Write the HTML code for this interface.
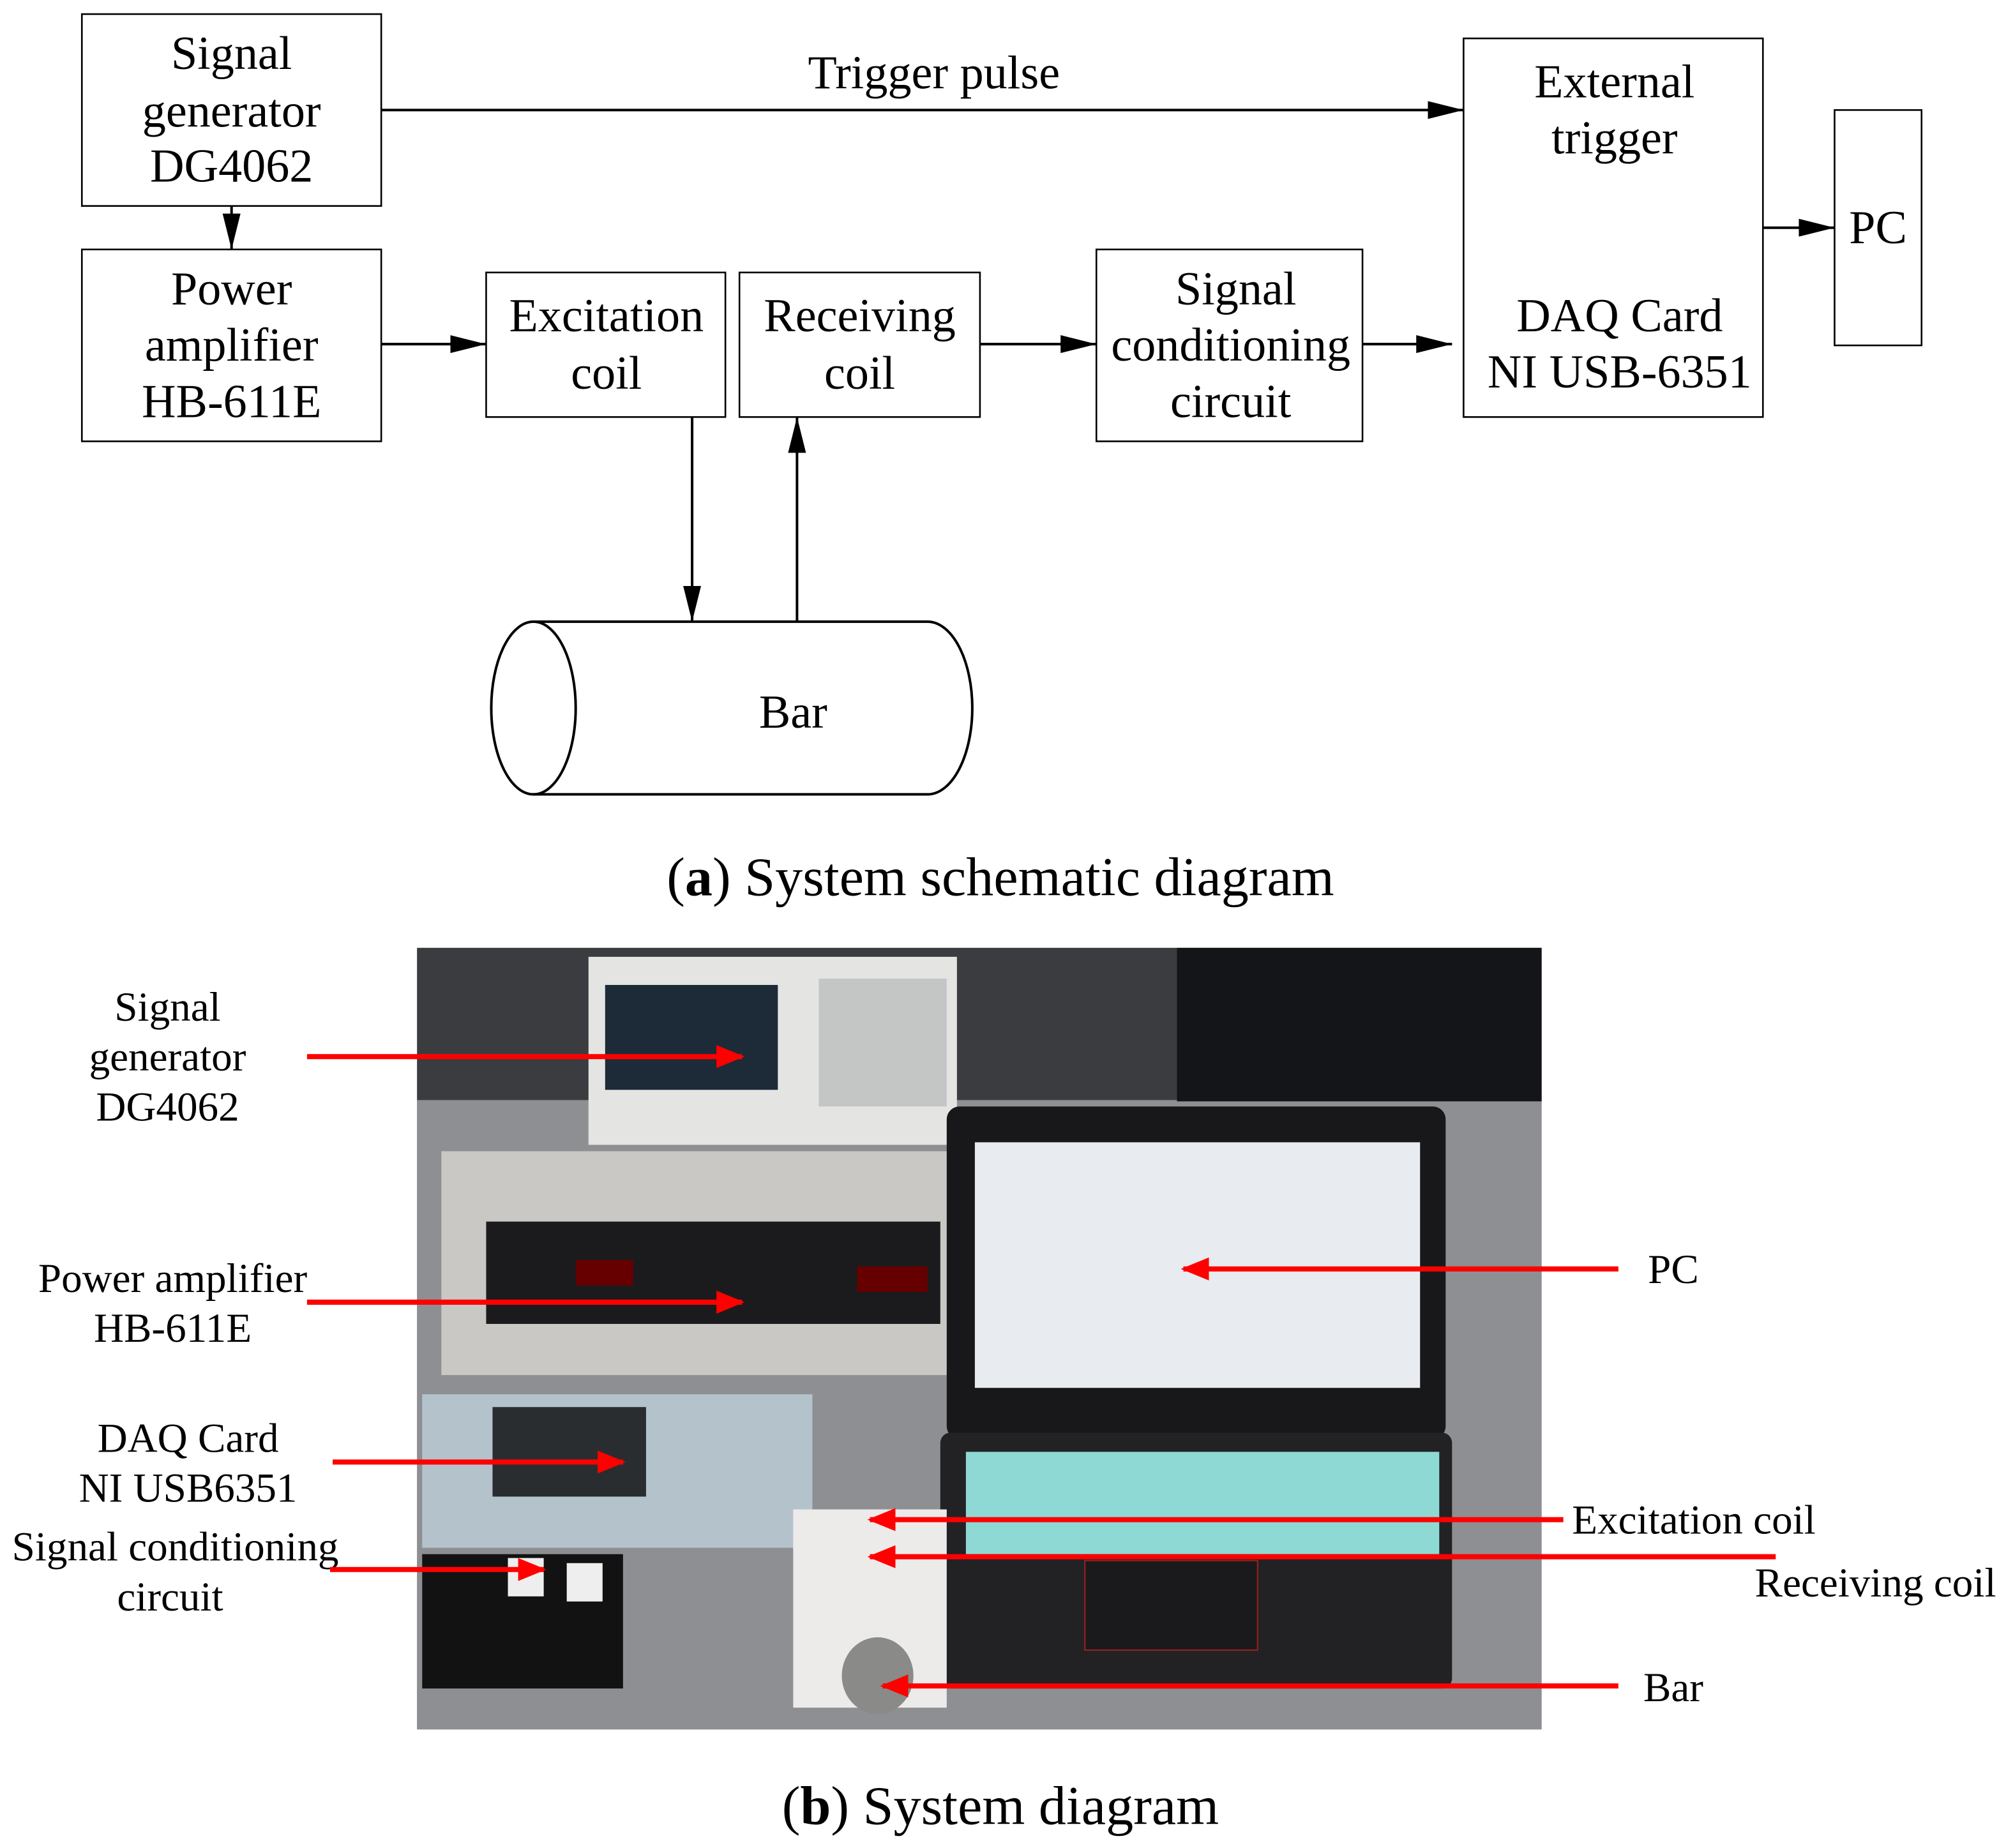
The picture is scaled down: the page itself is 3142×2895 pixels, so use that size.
<!DOCTYPE html>
<html><head><meta charset="utf-8"><style>html,body{margin:0;padding:0;background:#fff}svg{display:block}</style></head>
<body>
<svg width="3142" height="2895" viewBox="0 0 1568 1444.7" xmlns="http://www.w3.org/2000/svg" font-family="Liberation Serif, serif">
<defs>
<marker id="ab" markerWidth="28" markerHeight="14" refX="28" refY="7" orient="auto" markerUnits="userSpaceOnUse"><path d="M0,0 L28,7 L0,14 z" fill="#000"/></marker>
<marker id="r" markerWidth="22" markerHeight="18" refX="20" refY="9" orient="auto" markerUnits="userSpaceOnUse"><path d="M0,0 L22,9 L0,18 z" fill="#f00"/></marker>
</defs>
<g fill="#fff" stroke="#000" stroke-width="1.3">
<rect x="64" y="11" width="234" height="150"/>
<rect x="64" y="195" width="234" height="150"/>
<rect x="380" y="213" width="187" height="113"/>
<rect x="578" y="213" width="188" height="113"/>
<rect x="857" y="195" width="208" height="150"/>
<rect x="1144" y="30" width="234" height="296"/>
<rect x="1434" y="86" width="68" height="184"/>
</g>
<g stroke="#000" stroke-width="2" fill="none" marker-end="url(#ab)">
<line x1="298" y1="86" x2="1144" y2="86"/>
<line x1="181" y1="161" x2="181" y2="195"/>
<line x1="298" y1="269" x2="380" y2="269"/>
<line x1="766" y1="269" x2="857" y2="269"/>
<line x1="1065" y1="269" x2="1135" y2="269"/>
<line x1="1378" y1="178" x2="1434" y2="178"/>
<line x1="541" y1="326" x2="541" y2="486"/>
<line x1="623" y1="486" x2="623" y2="326"/>
</g>
<g stroke="#000" stroke-width="2" fill="none">
<ellipse cx="417" cy="553.5" rx="33" ry="67.5"/>
<path d="M417,486 L725,486 A35,67.5 0 0 1 725,621 L417,621"/>
</g>
<g font-size="37" text-anchor="middle" fill="#000">
<text x="181" y="54">Signal</text><text x="181" y="99">generator</text><text x="181" y="142">DG4062</text>
<text x="181" y="238">Power</text><text x="181" y="282">amplifier</text><text x="181" y="326">HB-611E</text>
<text x="474" y="259">Excitation</text><text x="474" y="304">coil</text>
<text x="672" y="259">Receiving</text><text x="672" y="304">coil</text>
<text x="966" y="238">Signal</text><text x="962" y="282">conditioning</text><text x="962" y="326">circuit</text>
<text x="1262" y="76">External</text><text x="1262" y="120">trigger</text>
<text x="1266" y="259">DAQ Card</text><text x="1266" y="303">NI USB-6351</text>
<text x="1468" y="190">PC</text>
<text x="730" y="69">Trigger pulse</text>
<text x="620" y="569">Bar</text>
<text x="782" y="700" font-size="43">(<tspan font-weight="bold">a</tspan>) System schematic diagram</text>
<text x="782" y="1426" font-size="43">(<tspan font-weight="bold">b</tspan>) System diagram</text>
</g>
<rect x="326" y="741" width="879" height="611" fill="#6e6f73"/>
<rect x="326" y="741" width="879" height="120" fill="#3a3c40"/>
<rect x="326" y="860" width="879" height="492" fill="#8d8f93"/>
<rect x="920" y="741" width="285" height="120" fill="#141518"/>
<rect x="345" y="900" width="400" height="175" fill="#c9c8c4"/>
<rect x="380" y="955" width="355" height="80" fill="#1b1b1d"/>
<rect x="450" y="985" width="45" height="20" fill="#600"/><rect x="670" y="990" width="55" height="20" fill="#600"/>
<rect x="460" y="748" width="288" height="147" fill="#e4e4e2"/>
<rect x="473" y="770" width="135" height="82" fill="#1d2a38"/>
<rect x="640" y="765" width="100" height="100" fill="#c4c6c6"/>
<rect x="740" y="865" width="390" height="260" rx="10" fill="#18181a"/>
<rect x="762" y="893" width="348" height="192" fill="#e8ebef"/>
<rect x="735" y="1120" width="400" height="200" rx="8" fill="#222224"/>
<rect x="755" y="1135" width="370" height="80" fill="#8ed9d4"/>
<rect x="848" y="1220" width="135" height="70" fill="#1a1a1c" stroke="#a02020" stroke-width="1"/>
<rect x="330" y="1090" width="305" height="120" fill="#b4c2cc"/>
<rect x="385" y="1100" width="120" height="70" fill="#2a2d30"/>
<rect x="330" y="1215" width="157" height="105" fill="#121213"/>
<rect x="397" y="1218" width="28" height="30" fill="#eee"/><rect x="443" y="1222" width="28" height="30" fill="#eee"/>
<rect x="620" y="1180" width="120" height="155" fill="#ecebea"/>
<ellipse cx="686" cy="1310" rx="28" ry="30" fill="#8a8a88"/>
<g font-size="32.5" text-anchor="middle" fill="#000">
<text x="131" y="798">Signal</text><text x="131" y="837">generator</text><text x="131" y="876">DG4062</text>
<text x="135" y="1010">Power amplifier</text><text x="135" y="1049">HB-611E</text>
<text x="147" y="1135">DAQ Card</text><text x="147" y="1174">NI USB6351</text>
<text x="137" y="1220">Signal conditioning</text><text x="133" y="1259">circuit</text>
<text x="1308" y="1003">PC</text>
<text x="1324" y="1199">Excitation coil</text>
<text x="1466" y="1248">Receiving coil</text>
<text x="1308" y="1330">Bar</text>
</g>
<g stroke="#f00" stroke-width="4" fill="none" marker-end="url(#r)">
<line x1="240" y1="826" x2="580" y2="826"/>
<line x1="240" y1="1018" x2="580" y2="1018"/>
<line x1="260" y1="1143" x2="487" y2="1143"/>
<line x1="258" y1="1227" x2="425" y2="1227"/>
<line x1="1265" y1="992" x2="925" y2="992"/>
<line x1="1222" y1="1188" x2="680" y2="1188"/>
<line x1="1388" y1="1217" x2="680" y2="1217"/>
<line x1="1265" y1="1318" x2="690" y2="1318"/>
</g>
</svg>
</body></html>
